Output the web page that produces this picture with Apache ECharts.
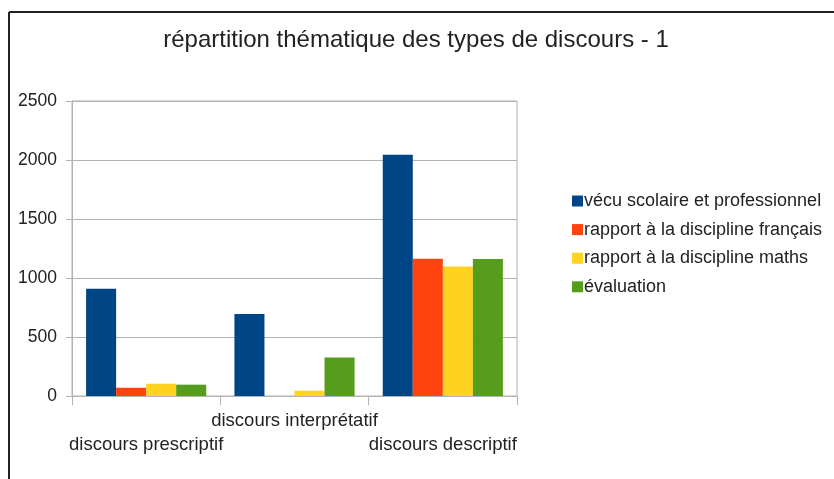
<!DOCTYPE html>
<html>
<head>
<meta charset="utf-8">
<script src="https://cdn.jsdelivr.net/npm/echarts@6/dist/echarts.min.js"></script>
<style>
  html, body { margin: 0; padding: 0; background: #fff; }
  #chart { width: 834px; height: 479px; }
</style>
</head>
<body>
<div id="chart"></div>
<script>
var categories = ["discours prescriptif", "discours interprétatif", "discours descriptif"];
var seriesNames = ["vécu scolaire et professionnel", "rapport à la discipline français", "rapport à la discipline maths", "évaluation"];
var vecu = [908, 694, 2045];
var francais = [70, 0, 1163];
var maths = [104, 45, 1097];
var evaluation = [96, 327, 1161];
var colors = ["#004586", "#ff420e", "#ffd320", "#579d1c"];
var yTicks = [0, 500, 1000, 1500, 2000, 2500];

var fontFam = '"Liberation Sans", Arial, sans-serif';
var allValues = [vecu, francais, maths, evaluation];

var series = [];
for (var i = 0; i < seriesNames.length; i++) {
	series.push({
		name: seriesNames[i],
		type: 'bar',
		data: allValues[i],
		barGap: '0%',
		barCategoryGap: '19%',
		itemStyle: { color: colors[i] }
	});
}

var myChart = echarts.init(document.getElementById('chart'), null, { renderer: 'canvas' });
var option = {
	backgroundColor: '#ffffff',
	animation: false,
	title: {
		text: 'répartition thématique des types de discours - 1',
		left: 411,
		textAlign: 'center',
		top: 23,
		textStyle: { fontFamily: fontFam, fontSize: 24, fontWeight: 'normal', color: '#222' }
	},
	legend: {
		orient: 'vertical',
		left: 567,
		top: 187,
		itemWidth: 11,
		itemHeight: 11,
		itemGap: 10.6,
		icon: 'rect',
		textStyle: { fontFamily: fontFam, fontSize: 18, lineHeight: 18, color: '#222', padding: [0, 0, 0, -4] },
		data: seriesNames
	},
	grid: { left: 72, right: 317, top: 101, bottom: 83, containLabel: false, show: true, borderColor: '#b3b3b3', borderWidth: 1 },
	xAxis: {
		type: 'category',
		data: categories,
		axisLine: { lineStyle: { color: '#b3b3b3' } },
		axisTick: { show: true, length: 9, lineStyle: { color: '#b3b3b3' } },
		axisLabel: {
			interval: 0,
			margin: 13,
			fontFamily: fontFam,
			fontSize: 18.5,
			color: '#222',
			lineHeight: 24,
			formatter: function (value, index) {
				return index % 2 === 0 ? '\n' + value : value;
			}
		}
	},
	yAxis: {
		type: 'value',
		min: yTicks[0],
		max: yTicks[yTicks.length - 1],
		interval: yTicks[1] - yTicks[0],
		axisLine: { show: true, lineStyle: { color: '#b3b3b3' } },
		axisTick: { show: true, length: 6, lineStyle: { color: '#b3b3b3' } },
		splitLine: { lineStyle: { color: '#b3b3b3' } },
		axisLabel: {
			fontFamily: fontFam, fontSize: 17.5, color: '#222', margin: 15,
			formatter: function (v) { return String(v); }
		}
	},
	graphic: [
		{ type: 'line', shape: { x1: 9, y1: 12, x2: 834, y2: 12 }, style: { stroke: '#222', lineWidth: 2 } },
		{ type: 'line', shape: { x1: 9, y1: 12, x2: 9, y2: 479 }, style: { stroke: '#222', lineWidth: 2 } }
	],
	series: series
};
myChart.setOption(option);
</script>
</body>
</html>
